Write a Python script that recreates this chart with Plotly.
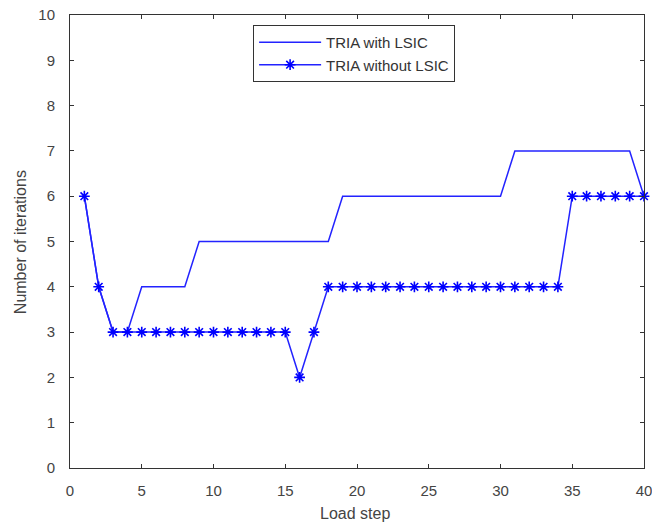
import plotly.graph_objects as go

load_step = list(range(1, 41))
with_lsic = [6, 4, 3, 3, 4, 4, 4, 4, 5, 5, 5, 5, 5, 5, 5, 5, 5, 5, 6, 6,
             6, 6, 6, 6, 6, 6, 6, 6, 6, 6, 7, 7, 7, 7, 7, 7, 7, 7, 7, 6]
without_lsic = [6, 4, 3, 3, 3, 3, 3, 3, 3, 3, 3, 3, 3, 3, 3, 2, 3, 4, 4, 4,
                4, 4, 4, 4, 4, 4, 4, 4, 4, 4, 4, 4, 4, 4, 6, 6, 6, 6, 6, 6]
x_ticks = [0, 5, 10, 15, 20, 25, 30, 35, 40]
y_ticks = list(range(0, 11))

FONT = "Liberation Sans, Arial"
blue = "#2323ff"
fig = go.Figure()
fig.add_trace(go.Scatter(x=load_step, y=with_lsic, mode="lines", name="TRIA with LSIC",
                         line=dict(color=blue, width=1.5), cliponaxis=False))
fig.add_trace(go.Scatter(x=load_step, y=without_lsic, mode="lines+markers", name="TRIA without LSIC",
                         line=dict(color=blue, width=1.5), cliponaxis=False,
                         marker=dict(symbol="asterisk-open", size=9, color="#0000ff",
                                     line=dict(color="#0000ff", width=1.6))))

axis_common = dict(showgrid=False, zeroline=False, showline=True, linecolor="#333333", linewidth=1,
                   mirror="ticks", ticks="inside", ticklen=4, tickcolor="#333333", automargin=False,
                   ticklabeloverflow="allow",
                   tickfont=dict(family=FONT, size=15, color="#444444"))
fig.update_xaxes(range=[0, 40], tickvals=x_ticks, ticklabelstandoff=9, **axis_common)
fig.update_yaxes(range=[0, 10], tickvals=y_ticks, ticklabelstandoff=11, **axis_common)
fig.add_annotation(text="Load step", xref="paper", yref="paper", x=0.4965, y=-0.1015,
                   xanchor="center", yanchor="middle", showarrow=False,
                   font=dict(family=FONT, size=16, color="#444444"))
fig.add_annotation(text="Number of iterations", xref="paper", yref="paper", x=-0.085, y=0.499,
                   xanchor="center", yanchor="middle", showarrow=False, textangle=-90,
                   font=dict(family=FONT, size=16, color="#444444"))
fig.update_layout(width=652, height=524, margin=dict(l=70, r=8, t=15, b=56),
                  plot_bgcolor="white", paper_bgcolor="white",
                  legend=dict(x=0.319, y=0.978, xanchor="left", yanchor="top",
                              bordercolor="#333333", borderwidth=1, bgcolor="white",
                              font=dict(family=FONT, size=15, color="#333333"),
                              tracegroupgap=0, itemwidth=62))
fig.write_html("out.html", config={"displayModeBar": False},
               post_script="document.body.style.margin='0';document.documentElement.style.overflow='hidden';")
